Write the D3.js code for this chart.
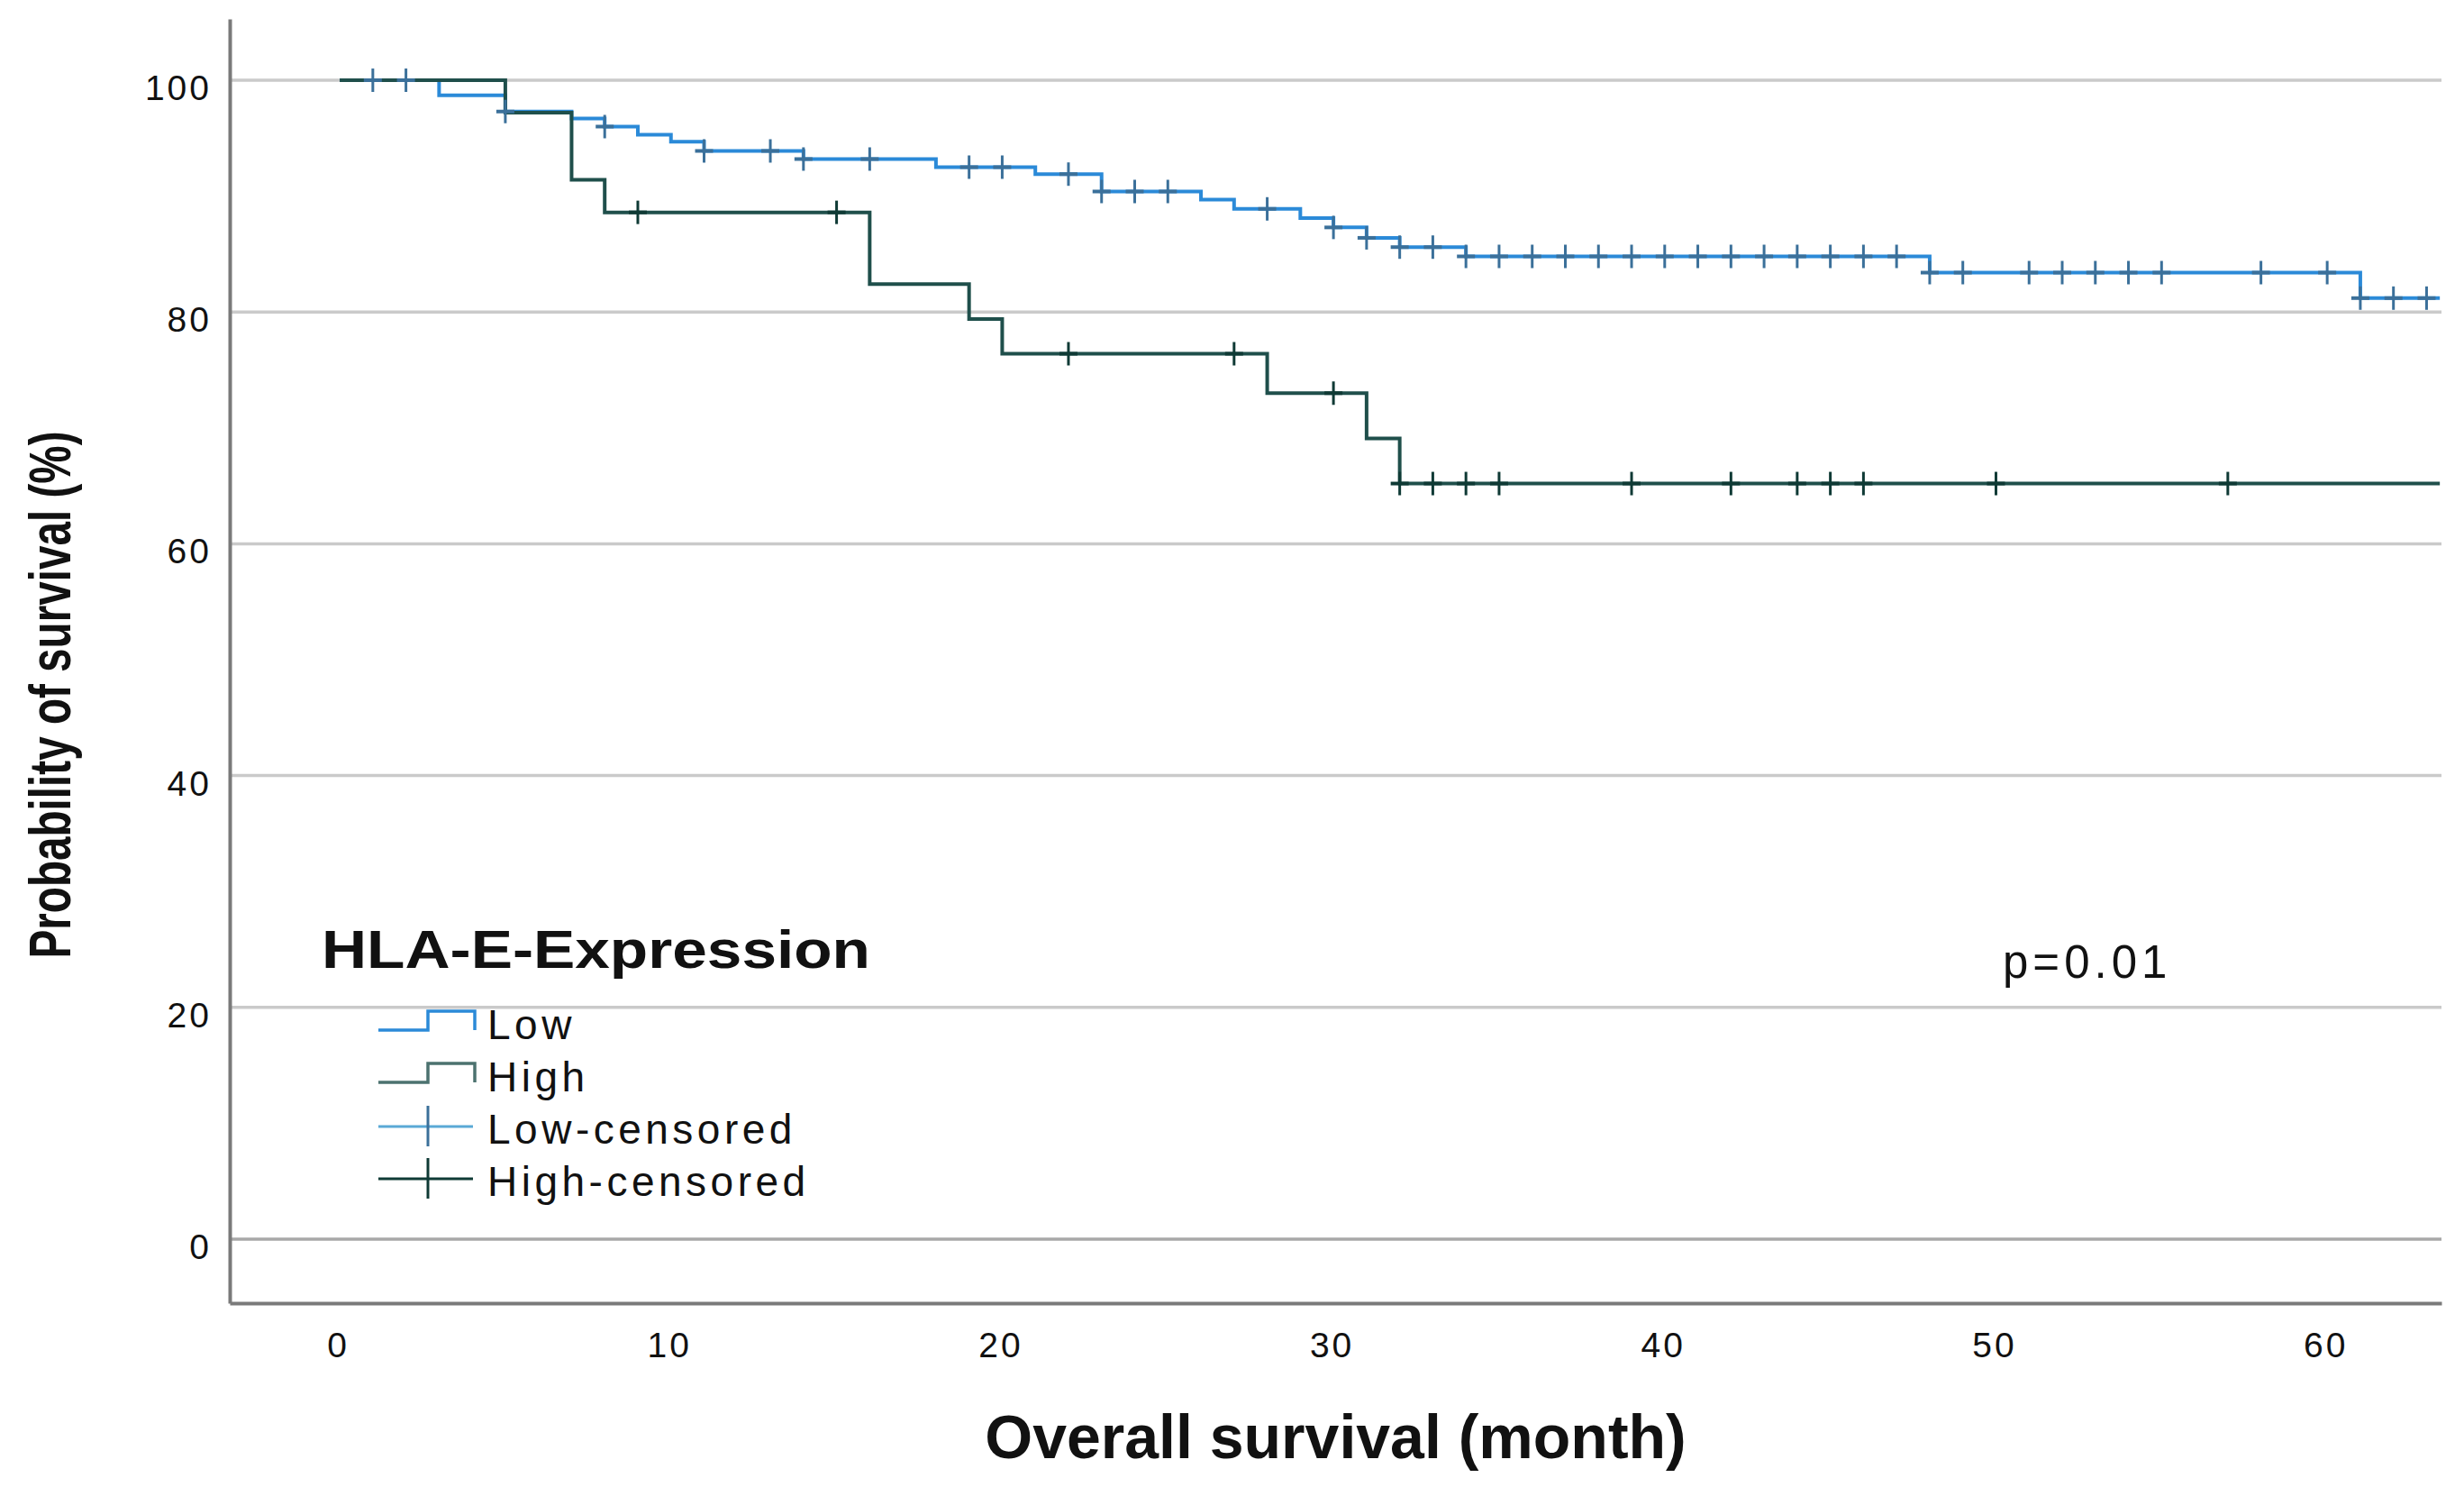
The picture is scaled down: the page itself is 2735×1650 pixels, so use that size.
<!DOCTYPE html>
<html>
<head>
<meta charset="utf-8">
<script src="https://cdn.jsdelivr.net/npm/d3@7"></script>
<style>
    body { margin: 0; background: #fff; }
    text { font-family: "Liberation Sans", Arial, sans-serif; fill: #111; }
</style>
</head>
<body>
<div id="chart"></div>
<script>
'use strict';

// Kaplan-Meier steps (months, % surviving)
var lowTimes = [0, 3, 5, 7, 8, 9, 10, 11, 14, 18, 21, 23, 26, 27, 29, 30, 31, 32, 34, 48, 61];
var lowSurv = [100, 98.7, 97.3, 96.7, 96.0, 95.3, 94.7, 93.9, 93.2, 92.5, 91.9, 90.4, 89.7, 88.9, 88.1, 87.3, 86.4, 85.6, 84.8, 83.4, 81.2];
var lowCensored = [1, 2, 5, 8, 11, 13, 14, 16, 19, 20, 22, 23, 24, 25, 28, 30, 31, 32, 33, 34, 35, 36, 37, 38, 39,
    40, 41, 42, 43, 44, 45, 46, 47, 48, 49, 51, 52, 53, 54, 55, 58, 60, 61, 62, 63];

var highTimes = [0, 5, 7, 8, 16, 19, 20, 28, 31, 32];
var highSurv = [100, 97.2, 91.4, 88.6, 82.4, 79.4, 76.4, 73.0, 69.1, 65.2];
var highCensored = [9, 15, 22, 27, 30, 32, 33, 34, 35, 39, 42, 44, 45, 46, 50, 57];

var followEnd = 63.4;

var xTicks = [0, 10, 20, 30, 40, 50, 60];
var yTicks = [0, 20, 40, 60, 80, 100];

var legendTitle = 'HLA-E-Expression';
var legendNames = ['Low', 'High', 'Low-censored', 'High-censored'];
var pText = 'p=0.01';

var LOW_COLOR = '#2b8ad8';
var LOW_CROSS = '#3b709a';
var HIGH_COLOR = '#1f4f4b';
var HIGH_CROSS = '#0f3a35';

var W = 2735, H = 1650;

var svg = d3.select('#chart')
    .append('svg')
    .attr('width', W)
    .attr('height', H);

var x = d3.scaleLinear().domain([-3.32, 63.45]).range([255, 2710]);
var y = d3.scaleLinear().domain([-5.52, 105.29]).range([1446, 21]);

// gridlines
svg.append('g')
    .selectAll('line')
    .data(yTicks)
    .enter()
    .append('line')
    .attr('x1', x.range()[0])
    .attr('x2', x.range()[1])
    .attr('y1', function (d) { return y(d); })
    .attr('y2', function (d) { return y(d); })
    .attr('stroke', function (d) { return d === 0 ? '#a8a8a8' : '#cacaca'; })
    .attr('stroke-width', 3.5);

// axes, no tick marks
var yAxis = svg.append('g')
    .attr('transform', 'translate(' + x.range()[0] + ',0)')
    .call(d3.axisLeft(y).tickValues(yTicks).tickSize(0).tickPadding(22));
var xAxis = svg.append('g')
    .attr('transform', 'translate(0,' + y.range()[0] + ')')
    .call(d3.axisBottom(x).tickValues(xTicks).tickSize(0).tickPadding(32));

[yAxis, xAxis].forEach(function (g) {
    g.select('.domain').attr('stroke', '#7a7a7a').attr('stroke-width', 4);
    g.selectAll('text')
        .attr('font-size', 39)
        .attr('letter-spacing', 3)
        .attr('font-family', '"Liberation Sans", Arial, sans-serif')
        .attr('fill', '#111');
});
yAxis.selectAll('text').attr('dy', '0.55em').attr('dx', '2px');
xAxis.selectAll('text').attr('dx', '-2px');

function stepPoints(times, surv) {
    var pts = times.map(function (t, i) { return [t, surv[i]]; });
    pts.push([followEnd, surv[surv.length - 1]]);
    return pts;
}

function survAt(times, surv, t) {
    var v = surv[0];
    for (var i = 0; i < times.length; i++) {
        if (times[i] <= t) v = surv[i];
    }
    return v;
}

var line = d3.line()
    .x(function (d) { return x(d[0]); })
    .y(function (d) { return y(d[1]); })
    .curve(d3.curveStepAfter);

svg.append('path')
    .datum(stepPoints(lowTimes, lowSurv))
    .attr('d', line)
    .attr('fill', 'none')
    .attr('stroke', LOW_COLOR)
    .attr('stroke-width', 4);

svg.append('path')
    .datum(stepPoints(highTimes, highSurv))
    .attr('d', line)
    .attr('fill', 'none')
    .attr('stroke', HIGH_COLOR)
    .attr('stroke-width', 4);

function drawCrosses(cls, censored, times, surv, color) {
    var g = svg.append('g').attr('class', cls);
    var marks = g.selectAll('g')
        .data(censored)
        .enter()
        .append('g')
        .attr('transform', function (t) {
            return 'translate(' + x(t) + ',' + y(survAt(times, surv, t)) + ')';
        });
    marks.append('line')
        .attr('x1', 0).attr('x2', 0)
        .attr('y1', -13).attr('y2', 13)
        .attr('stroke', color).attr('stroke-width', 3);
    marks.append('line')
        .attr('x1', -10).attr('x2', 10)
        .attr('y1', 0).attr('y2', 0)
        .attr('stroke', color).attr('stroke-width', 4);
}

drawCrosses('low-censored', lowCensored, lowTimes, lowSurv, LOW_CROSS);
drawCrosses('high-censored', highCensored, highTimes, highSurv, HIGH_CROSS);

// axis titles
svg.append('text')
    .attr('x', (x.range()[0] + x.range()[1]) / 2)
    .attr('y', 1618)
    .attr('text-anchor', 'middle')
    .attr('font-size', 68)
    .attr('font-weight', 'bold')
    .text('Overall survival (month)');

svg.append('text')
    .attr('transform', 'translate(78,771) rotate(-90)')
    .attr('text-anchor', 'middle')
    .attr('font-size', 64)
    .attr('font-weight', 'bold')
    .attr('textLength', 585)
    .attr('lengthAdjust', 'spacingAndGlyphs')
    .text('Probability of survival (%)');

// legend
var legend = svg.append('g');
legend.append('text')
    .attr('x', 357)
    .attr('y', 1074)
    .attr('font-size', 60)
    .attr('font-weight', 'bold')
    .attr('textLength', 609)
    .attr('lengthAdjust', 'spacingAndGlyphs')
    .text(legendTitle);

var legendColors = [LOW_COLOR, HIGH_COLOR, LOW_CROSS, HIGH_CROSS];
var rows = legend.selectAll('.row')
    .data(legendNames)
    .enter()
    .append('g')
    .attr('class', 'row')
    .attr('transform', function (d, i) { return 'translate(0,' + (1153 + 58 * i) + ')'; });

rows.each(function (d, i) {
    var r = d3.select(this);
    if (i < 2) {
        r.append('path')
            .attr('d', 'M420,-10H475V-31H527V-10')
            .attr('fill', 'none')
            .attr('stroke', legendColors[i])
            .attr('stroke-width', 3.5)
            .attr('opacity', i === 1 ? 0.8 : 1);
    } else {
        r.append('line')
            .attr('x1', 420).attr('x2', 525)
            .attr('y1', -19).attr('y2', -19)
            .attr('stroke', i === 2 ? '#5aa9d6' : legendColors[i])
            .attr('stroke-width', 3);
        r.append('line')
            .attr('x1', 475).attr('x2', 475)
            .attr('y1', -42).attr('y2', 3)
            .attr('stroke', legendColors[i])
            .attr('stroke-width', 3);
    }
    r.append('text')
        .attr('x', 541)
        .attr('y', 0)
        .attr('font-size', 46)
        .attr('letter-spacing', 4.5)
        .text(d);
});

svg.append('text')
    .attr('x', 2223)
    .attr('y', 1085)
    .attr('font-size', 51)
    .attr('letter-spacing', 5)
    .text(pText);
</script>
</body>
</html>
